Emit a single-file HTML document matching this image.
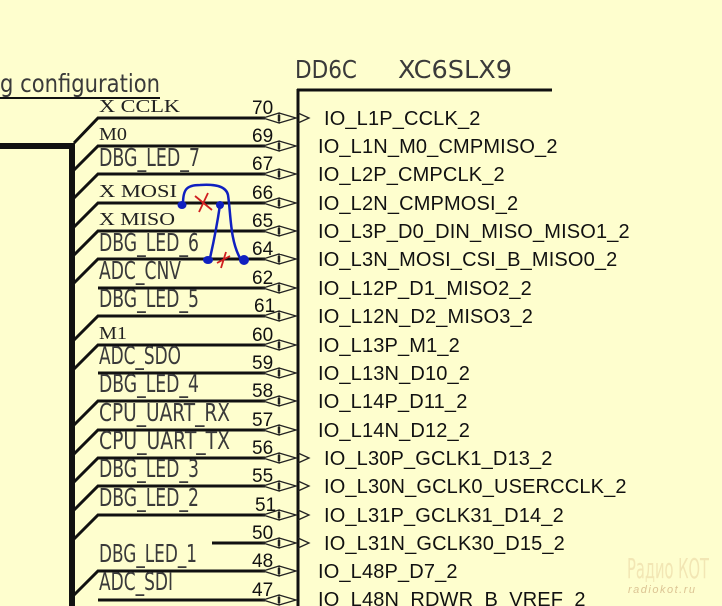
<!DOCTYPE html>
<html><head><meta charset="utf-8"><style>
html,body{margin:0;padding:0;background:#fefece;}
svg{display:block}
.n{font-family:"DejaVu Sans","Liberation Sans",sans-serif;font-size:25px;fill:#3a3a3a;}
.s{font-family:"Liberation Serif",serif;font-size:18px;fill:#222;}
.p{font-family:"Liberation Sans",sans-serif;font-size:19px;fill:#111;}
.b{font-family:"Liberation Sans",sans-serif;font-size:20px;fill:#111;letter-spacing:0.15px;}
</style></head><body>
<svg width="722" height="606" viewBox="0 0 722 606" xmlns="http://www.w3.org/2000/svg">
<defs>
<g id="pin"><path d="M279,-5 L263,0 L279,5 Z M279,-5 L296,0 L279,5" /><line x1="279" y1="-3" x2="279" y2="3" stroke-width="2.5"/></g>
</defs>
<rect width="722" height="606" fill="#fefece"/>
<!-- title -->
<text x="0" y="92" class="n" textLength="160" lengthAdjust="spacingAndGlyphs">g configuration</text>
<line x1="0" y1="98" x2="160" y2="98" stroke="#111" stroke-width="2"/>
<text x="295" y="78" class="n" font-size="33" textLength="62" lengthAdjust="spacingAndGlyphs">DD6C</text>
<text x="398" y="78" class="n" font-size="33" textLength="114" lengthAdjust="spacingAndGlyphs">XC6SLX9</text>
<!-- box -->
<line x1="297" y1="90" x2="552" y2="90" stroke="#111" stroke-width="3"/>
<line x1="298" y1="89" x2="298" y2="606" stroke="#111" stroke-width="3"/>
<!-- bus -->
<line x1="0" y1="146" x2="74" y2="146" stroke="#111" stroke-width="6"/>
<line x1="72" y1="143" x2="72" y2="606" stroke="#111" stroke-width="6"/>
<g stroke="#111" stroke-width="3" fill="none">
<path d="M74,143 L98,118 H265"/>
<path d="M74,170 L98,146 H265"/>
<path d="M74,198 L98,174 H265"/>
<path d="M74,227 L98,203 H265"/>
<path d="M74,255 L98,231 H265"/>
<path d="M74,283 L98,259 H265"/>
<path d="M98,288 H265"/>
<path d="M74,340 L98,316 H265"/>
<path d="M74,369 L98,345 H265"/>
<path d="M98,373 H265"/>
<path d="M74,425 L98,401 H265"/>
<path d="M74,454 L98,430 H265"/>
<path d="M74,482 L98,458 H265"/>
<path d="M74,510 L98,486 H265"/>
<path d="M74,539 L98,515 H265"/>
<path d="M212,543 H265"/>
<path d="M74,595 L98,571 H265"/>
<path d="M98,600 H265"/>
</g>
<g stroke="#222" stroke-width="1.3" fill="none">
<use href="#pin" y="118"/><use href="#pin" y="146"/><use href="#pin" y="174"/><use href="#pin" y="203"/><use href="#pin" y="231"/><use href="#pin" y="259"/><use href="#pin" y="288"/><use href="#pin" y="316"/><use href="#pin" y="345"/><use href="#pin" y="373"/><use href="#pin" y="401"/><use href="#pin" y="430"/><use href="#pin" y="458"/><use href="#pin" y="486"/><use href="#pin" y="515"/><use href="#pin" y="543"/><use href="#pin" y="571"/><use href="#pin" y="600"/>
<path d="M298,113 L309,118 L298,123"/>
<path d="M298,453 L309,458 L298,463"/>
<path d="M298,481 L309,486 L298,491"/>
<path d="M298,510 L309,515 L298,520"/>
<path d="M298,538 L309,543 L298,548"/>
</g>
<!-- signal labels -->
<text x="99" y="112" class="s" textLength="81" lengthAdjust="spacingAndGlyphs">X CCLK</text>
<text x="99" y="140" class="s" textLength="28" lengthAdjust="spacingAndGlyphs">M0</text>
<text x="99" y="166" class="n" textLength="101" lengthAdjust="spacingAndGlyphs">DBG_LED_7</text>
<text x="99" y="197" class="s" textLength="78" lengthAdjust="spacingAndGlyphs">X MOSI</text>
<text x="99" y="225" class="s" textLength="76" lengthAdjust="spacingAndGlyphs">X MISO</text>
<text x="99" y="251" class="n" textLength="100" lengthAdjust="spacingAndGlyphs">DBG_LED_6</text>
<text x="99" y="279" class="n" textLength="82" lengthAdjust="spacingAndGlyphs">ADC_CNV</text>
<text x="99" y="307" class="n" textLength="100" lengthAdjust="spacingAndGlyphs">DBG_LED_5</text>
<text x="99" y="339" class="s" textLength="28" lengthAdjust="spacingAndGlyphs">M1</text>
<text x="99" y="364" class="n" textLength="82" lengthAdjust="spacingAndGlyphs">ADC_SDO</text>
<text x="99" y="392" class="n" textLength="100" lengthAdjust="spacingAndGlyphs">DBG_LED_4</text>
<text x="99" y="421" class="n" textLength="131" lengthAdjust="spacingAndGlyphs">CPU_UART_RX</text>
<text x="99" y="449" class="n" textLength="131" lengthAdjust="spacingAndGlyphs">CPU_UART_TX</text>
<text x="99" y="477" class="n" textLength="100" lengthAdjust="spacingAndGlyphs">DBG_LED_3</text>
<text x="99" y="506" class="n" textLength="100" lengthAdjust="spacingAndGlyphs">DBG_LED_2</text>
<text x="99" y="562" class="n" textLength="98" lengthAdjust="spacingAndGlyphs">DBG_LED_1</text>
<text x="99" y="590" class="n" textLength="74" lengthAdjust="spacingAndGlyphs">ADC_SDI</text>
<!-- pin numbers -->
<g class="p">
<text x="252" y="114">70</text><text x="252" y="142">69</text><text x="252" y="170">67</text><text x="252" y="199">66</text><text x="252" y="227">65</text><text x="252" y="255">64</text><text x="252" y="284">62</text><text x="254" y="312">61</text><text x="252" y="341">60</text><text x="252" y="369">59</text><text x="252" y="397">58</text><text x="252" y="426">57</text><text x="252" y="454">56</text><text x="252" y="482">55</text><text x="255" y="511">51</text><text x="252" y="539">50</text><text x="252" y="567">48</text><text x="252" y="596">47</text>
</g>
<!-- box labels -->
<g class="b">
<text x="324" y="125">IO_L1P_CCLK_2</text>
<text x="318" y="153">IO_L1N_M0_CMPMISO_2</text>
<text x="318" y="181">IO_L2P_CMPCLK_2</text>
<text x="318" y="210">IO_L2N_CMPMOSI_2</text>
<text x="318" y="238">IO_L3P_D0_DIN_MISO_MISO1_2</text>
<text x="318" y="266">IO_L3N_MOSI_CSI_B_MISO0_2</text>
<text x="318" y="295">IO_L12P_D1_MISO2_2</text>
<text x="318" y="323">IO_L12N_D2_MISO3_2</text>
<text x="318" y="352">IO_L13P_M1_2</text>
<text x="318" y="380">IO_L13N_D10_2</text>
<text x="318" y="408">IO_L14P_D11_2</text>
<text x="318" y="437">IO_L14N_D12_2</text>
<text x="324" y="465">IO_L30P_GCLK1_D13_2</text>
<text x="324" y="493">IO_L30N_GCLK0_USERCCLK_2</text>
<text x="324" y="522">IO_L31P_GCLK31_D14_2</text>
<text x="324" y="550">IO_L31N_GCLK30_D15_2</text>
<text x="318" y="578">IO_L48P_D7_2</text>
<text x="318" y="606">IO_L48N_RDWR_B_VREF_2</text>
</g>
<!-- hand edits -->
<g stroke="#1020c0" stroke-width="2.5" fill="none" stroke-linecap="round">
<path d="M183,204 C183,190 186,185 200,185 C215,184 226,186 228,195 C231,215 230,240 240,258"/>
<path d="M220,205 C217,225 213,245 210,258"/>
</g>
<g fill="#1020c0">
<ellipse cx="182" cy="205" rx="4.5" ry="4"/>
<ellipse cx="220" cy="205" rx="4" ry="4"/>
<ellipse cx="208" cy="260" rx="5" ry="4"/>
<ellipse cx="244" cy="260" rx="5" ry="5"/>
</g>
<g stroke="#d02020" stroke-width="1.8" fill="none">
<path d="M195,196 L212,210 M208,193 L199,212"/>
<path d="M217,263 L230,256 M226,252 L221,268"/>
</g>
<!-- watermark -->
<text x="627" y="578" font-family="DejaVu Sans,sans-serif" font-size="28" fill="#f2e6b4" textLength="82" lengthAdjust="spacingAndGlyphs">Радио КОТ</text>
<text x="628" y="593" font-family="Liberation Sans,sans-serif" font-style="italic" font-size="11" fill="#dcc494" letter-spacing="1.5">radiokot.ru</text>
</svg>
</body></html>
